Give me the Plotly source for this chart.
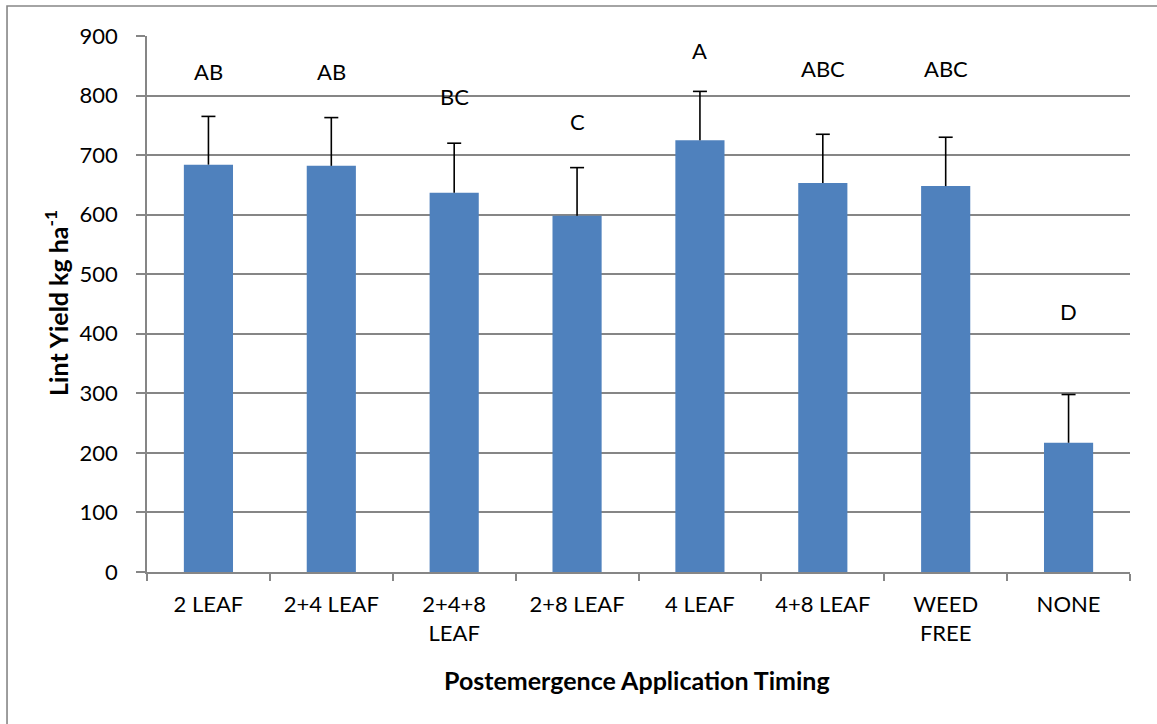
import plotly.graph_objects as go

# Lint yield by postemergence application timing
timings = ["2 LEAF", "2+4 LEAF", "2+4+8<br>LEAF", "2+8 LEAF", "4 LEAF",
           "4+8 LEAF", "WEED<br>FREE", "NONE"]
lint_yield = [684, 682, 637, 598, 725, 653, 648, 217]
yield_err = [81, 81, 83, 81, 82, 82, 82, 81]

# Mean-separation letters and the height each is printed at
letters = ["AB", "AB", "BC", "C", "A", "ABC", "ABC", "D"]
letter_y = [840, 840, 798, 756, 876, 846, 846, 437]

y_ticks = [0, 100, 200, 300, 400, 500, 600, 700, 800, 900]

FONT = "Lato, 'Open Sans', sans-serif"
GRID = "#868686"

fig = go.Figure()
# Bars with upward-only error whiskers (no caps from the bar trace itself)
fig.add_trace(go.Bar(
    x=timings,
    y=lint_yield,
    width=0.4,
    marker=dict(color="#4F81BD", line=dict(width=0)),
    error_y=dict(type="data", array=yield_err, arrayminus=[0] * len(yield_err),
                 symmetric=False, color="black", thickness=1.6, width=0),
    showlegend=False,
))
# Caps at the top of each whisker
fig.add_trace(go.Scatter(
    x=timings,
    y=[v + e for v, e in zip(lint_yield, yield_err)],
    mode="markers",
    marker=dict(symbol="line-ew", size=10, line=dict(color="black", width=1.6)),
    showlegend=False, hoverinfo="skip",
))

for t, lab, ly in zip(timings, letters, letter_y):
    fig.add_annotation(x=t, y=ly, text=lab, showarrow=False,
                       xanchor="center", yanchor="middle",
                       font=dict(family=FONT, size=22, color="black"))

# Axis titles
fig.add_annotation(xref="paper", yref="paper", x=-0.0916, y=0.502,
                   text="<b>Lint Yield kg ha<sup>-1</sup></b>", textangle=-90,
                   showarrow=False, xanchor="center", yanchor="middle",
                   font=dict(family=FONT, size=25, color="black"))
fig.add_annotation(xref="paper", yref="paper", x=0.4985, y=-0.2015,
                   text="<b>Postemergence Application Timing</b>",
                   showarrow=False, xanchor="center", yanchor="middle",
                   font=dict(family=FONT, size=25, color="black"))

# Chart frame
fig.add_shape(type="rect", xref="paper", yref="paper",
              x0=-0.1424, x1=1.5, y0=-1.0, y1=1.056,
              line=dict(color=GRID, width=1.6), layer="below")

fig.update_layout(
    width=1157, height=724,
    margin=dict(l=147, r=27, t=36, b=152),
    paper_bgcolor="white", plot_bgcolor="white",
    bargap=0.6,
    font=dict(family=FONT, size=22, color="black"),
    xaxis=dict(
        type="category",
        showline=True, linecolor=GRID, linewidth=1.6,
        ticks="outside", tickson="boundaries", ticklen=7,
        tickcolor=GRID, tickwidth=1.6,
        showgrid=False, zeroline=False,
        tickfont=dict(family=FONT, size=22),
        ticklabelstandoff=12,
    ),
    yaxis=dict(
        range=[0, 900], tickvals=y_ticks,
        showline=True, linecolor=GRID, linewidth=1.6,
        ticks="outside", ticklen=9, tickcolor=GRID, tickwidth=1.6,
        showgrid=True, gridcolor=GRID, gridwidth=1.6,
        zeroline=False,
        tickfont=dict(family=FONT, size=22),
        ticklabelstandoff=14,
    ),
)

fig.write_html("out.html")
